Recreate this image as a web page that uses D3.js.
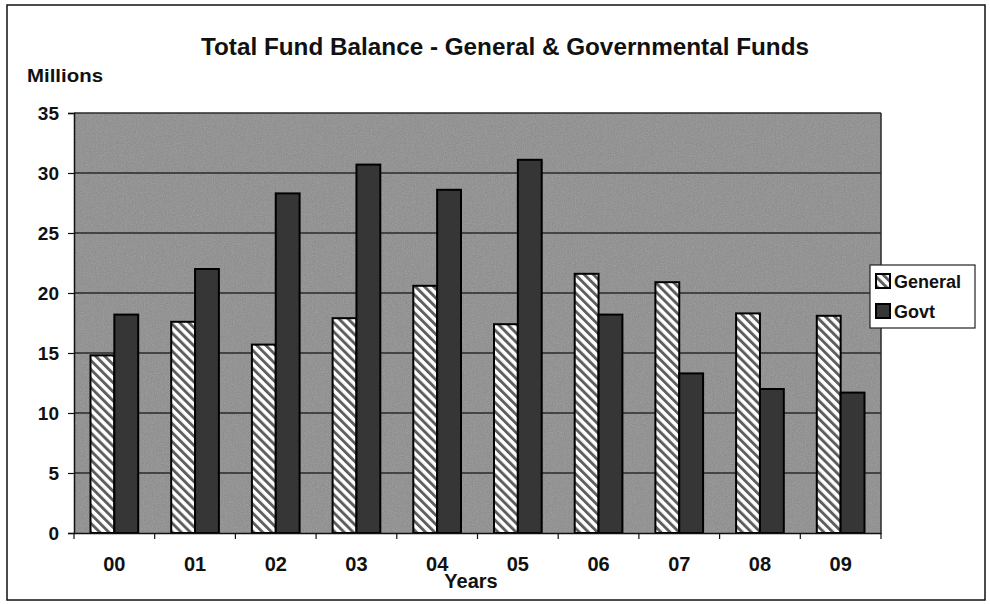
<!DOCTYPE html>
<html><head><meta charset="utf-8">
<script src="https://cdn.jsdelivr.net/npm/d3@7"></script>
<style>body{margin:0;background:#fff}svg{display:block}</style>
</head><body>
<svg id="c" width="990" height="604"></svg>
<script>
const years = ["00","01","02","03","04","05","06","07","08","09"];
const general = [14.8,17.6,15.7,17.9,20.6,17.4,21.6,20.9,18.3,18.1];
const govt = [18.2,22.0,28.3,30.7,28.6,31.1,18.2,13.3,12.0,11.7];
const yTicks = [0,5,10,15,20,25,30,35];
const seriesNames = ["General","Govt"];

const svg = d3.select("#c");
const font = "Arial, 'Liberation Sans', sans-serif";
const L=74, R=881, T=113, B=533;

const defs = svg.append("defs");
const pat = defs.append("pattern").attr("id","hatch").attr("patternUnits","userSpaceOnUse")
  .attr("width",6.4).attr("height",6.4).attr("patternTransform","rotate(-45)");
pat.append("rect").attr("width",6.4).attr("height",6.4).attr("fill","#fff");
pat.append("rect").attr("x",0).attr("width",2.9).attr("height",6.4).attr("fill","#5e5e5e");
const flt = defs.append("filter").attr("id","noise")
  .attr("x",0).attr("y",0).attr("width",1).attr("height",1);
flt.append("feTurbulence").attr("type","fractalNoise").attr("baseFrequency",0.9).attr("numOctaves",2).attr("seed",3);
flt.append("feColorMatrix").attr("type","matrix").attr("values","0 0 0 0 0.45  0 0 0 0 0.45  0 0 0 0 0.45  0.5 0.5 0.5 0 -0.6");

// outer border
svg.append("rect").attr("x",7).attr("y",5).attr("width",978).attr("height",595)
  .attr("fill","#fff").attr("stroke","#111").attr("stroke-width",1.5);

const x = d3.scaleBand().domain(years).range([L,R]).paddingInner(0).paddingOuter(0);
const x1 = d3.scaleBand().domain(seriesNames).range([16.5, x.bandwidth()-16.5]);
const y = d3.scaleLinear().domain([0,35]).range([B,T]);

// plot bg
svg.append("rect").attr("x",L).attr("y",T).attr("width",R-L).attr("height",B-T).attr("fill","#8e8e8e");
svg.append("rect").attr("x",L).attr("y",T).attr("width",R-L).attr("height",B-T).attr("fill","#fff").attr("filter","url(#noise)");

// grid
svg.append("g").selectAll("line").data(yTicks.filter(d=>d>0)).join("line")
  .attr("x1",L).attr("x2",R).attr("y1",d=>y(d)).attr("y2",d=>y(d))
  .attr("stroke","#2a2a2a").attr("stroke-width",1.5);
svg.append("line").attr("x1",R).attr("x2",R).attr("y1",T).attr("y2",B).attr("stroke","#2a2a2a").attr("stroke-width",1.5);

// bars
const g = svg.append("g");
g.selectAll(".gen").data(years).join("rect")
  .attr("x",(d)=>x(d)+x1("General")).attr("y",(d,i)=>y(general[i]))
  .attr("width",x1.bandwidth()).attr("height",(d,i)=>B-y(general[i]))
  .attr("fill","url(#hatch)").attr("stroke","#000").attr("stroke-width",2);
g.selectAll(".gov").data(years).join("rect")
  .attr("x",(d)=>x(d)+x1("Govt")).attr("y",(d,i)=>y(govt[i]))
  .attr("width",x1.bandwidth()).attr("height",(d,i)=>B-y(govt[i]))
  .attr("fill","#363636").attr("stroke","#000").attr("stroke-width",2);

// axes
const ya = svg.append("g").attr("transform",`translate(${L},0)`)
  .call(d3.axisLeft(y).tickValues(yTicks).tickSize(6).tickPadding(9));
ya.select(".domain").attr("stroke","#111").attr("stroke-width",1.5);
ya.selectAll(".tick line").attr("stroke","#111").attr("stroke-width",1.2);
ya.selectAll("text").attr("font-family",font).attr("font-size",19).attr("font-weight","bold").attr("fill","#111");

const xa = svg.append("g").attr("transform",`translate(0,${B})`)
  .call(d3.axisBottom(x).tickSize(0).tickPadding(24));
xa.select(".domain").attr("stroke","#111").attr("stroke-width",1.5);
xa.selectAll("text").attr("font-family",font).attr("font-size",20).attr("font-weight","bold").attr("fill","#111");
svg.append("g").selectAll("line").data(years.concat(["end"])).join("line")
  .attr("x1",(d,i)=>L+i*x.bandwidth()).attr("x2",(d,i)=>L+i*x.bandwidth())
  .attr("y1",B).attr("y2",B+6).attr("stroke","#111").attr("stroke-width",1.2);

// texts
svg.append("text").attr("x",505).attr("y",55).attr("text-anchor","middle")
  .attr("font-family",font).attr("font-weight","bold").attr("font-size",23).attr("fill","#111")
  .attr("textLength",608).attr("lengthAdjust","spacingAndGlyphs")
  .text("Total Fund Balance - General & Governmental Funds");
svg.append("text").attr("x",27).attr("y",82)
  .attr("font-family",font).attr("font-weight","bold").attr("font-size",19).attr("fill","#111")
  .attr("textLength",76).attr("lengthAdjust","spacingAndGlyphs")
  .text("Millions");
svg.append("text").attr("x",471).attr("y",588).attr("text-anchor","middle")
  .attr("font-family",font).attr("font-weight","bold").attr("font-size",20).attr("fill","#111")
  .text("Years");

// legend
const lg = svg.append("g");
lg.append("rect").attr("x",870).attr("y",265).attr("width",105).attr("height",63)
  .attr("fill","#fff").attr("stroke","#222").attr("stroke-width",1.2);
const items = seriesNames.map((n,i)=>({n, fill: i===0?"url(#hatch)":"#363636"}));
lg.selectAll(".sw").data(items).join("rect")
  .attr("x",876).attr("y",(d,i)=>274+i*30).attr("width",14).attr("height",14)
  .attr("fill",d=>d.fill).attr("stroke","#000").attr("stroke-width",2);
lg.selectAll(".lt").data(items).join("text")
  .attr("x",894).attr("y",(d,i)=>288+i*30)
  .attr("font-family",font).attr("font-size",18).attr("font-weight","bold").attr("fill","#111")
  .text(d=>d.n);
</script>
</body></html>
